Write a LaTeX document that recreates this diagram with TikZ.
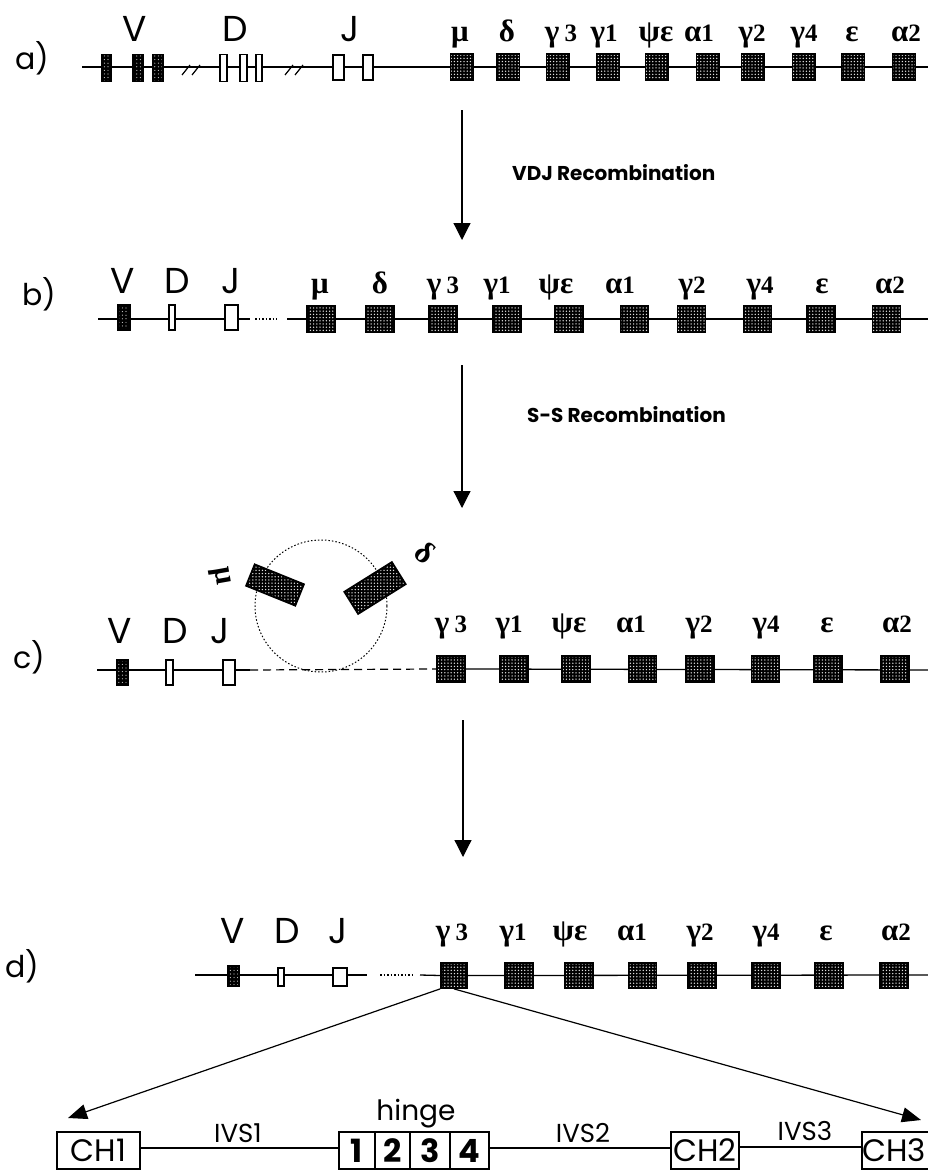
\documentclass[tikz,border=0pt]{standalone}
\usepackage{fontspec}
\setmainfont{Poppins}
\newfontfamily\gk{Liberation Serif}
\newcommand\dg[1]{{\fontsize{25}{25}\selectfont #1}}
\usetikzlibrary{arrows.meta,patterns.meta}
\begin{document}
\begin{tikzpicture}[x=1pt,y=-1pt,
  backbone/.style={line width=1.3pt},
  cbox/.style={draw=black, line width=1.8pt, inner sep=0pt, preaction={fill=black},
    pattern={Dots[distance=3.2pt, radius=0.75pt]}, pattern color=white!75!gray},
  vbox/.style={draw=black, line width=1.5pt, inner sep=0pt, preaction={fill=black},
    pattern={Dots[distance=3.6pt, radius=0.6pt]}, pattern color=white!60!gray},
  obox/.style={draw=black, line width=1.3pt, fill=white, inner sep=0pt},
  glab/.style={font=\gk\bfseries\fontsize{31}{31}\selectfont, inner sep=0pt, anchor=base},
  slab/.style={font=\fontsize{36}{36}\selectfont, inner sep=0pt, anchor=base},
  rowlab/.style={font=\fontsize{30}{30}\selectfont, inner sep=0pt, anchor=base west},
  steplab/.style={font=\bfseries\fontsize{20}{20}\selectfont, inner sep=0pt, anchor=base west},
  flow/.style={line width=1.2pt, -{Triangle[length=17pt,width=17pt]}},
  bigarrow/.style={line width=1.2pt, -{Triangle[length=19pt,width=15pt]}},
  gbox/.style={draw=black, line width=1.6pt, fill=white, inner sep=0pt, minimum height=37pt,
    font=\fontsize{31}{31}\selectfont},
  hbox/.style={draw=black, line width=1.6pt, fill=white, inner sep=0pt, minimum height=37pt,
    font=\bfseries\fontsize{32}{32}\selectfont},
  ivs/.style={font=\fontsize{26}{26}\selectfont, inner sep=0pt, anchor=base}
]
\useasboundingbox (0,0) rectangle (928,1172);
\fill[white] (0,0) rectangle (928,1172);

% ---------------- row a ----------------
\node[rowlab] (la) at (15,70) {a)};
\coordinate (a-s) at (82,67);
\coordinate (a-e) at (928,67);
\draw[backbone] (a-s) -- (a-e);
\draw[line width=1.2pt] (182,75) -- (190,65) (192,75) -- (200,65);
\draw[line width=1.2pt] (285,75) -- (293,65) (295,75) -- (303,65);
\node[vbox, minimum width=9pt, minimum height=27pt] (a-v1) at (106.5,68) {};
\node[vbox, minimum width=10pt, minimum height=27pt] (a-v2) at (138,68) {};
\node[vbox, minimum width=10pt, minimum height=27pt] (a-v3) at (158,68) {};
\node[obox, minimum width=7pt, minimum height=27pt] (a-d1) at (223.5,68) {};
\node[obox, minimum width=7pt, minimum height=27pt] (a-d2) at (243.5,68) {};
\node[obox, minimum width=6pt, minimum height=27pt] (a-d3) at (259,68) {};
\node[obox, minimum width=11pt, minimum height=25pt] (a-j1) at (338.5,67.5) {};
\node[obox, minimum width=10pt, minimum height=25pt] (a-j2) at (368,67.5) {};
\foreach \x/\n in {462/mu,508/de,558/g3,608/g1,657/pe,708/a1,753/g2,804/g4,853/ep,904/a2}
  \node[cbox, minimum width=23pt, minimum height=26pt] (a-\n) at (\x,67) {};
\node[slab] (a-V) at (135,42) {V};
\node[slab] (a-D) at (235,42) {D};
\node[slab] (a-J) at (350,42) {J};
\node[glab] (a-lmu) at (460,42) {μ};
\node[glab] (a-lde) at (507,42) {δ};
\node[glab] (a-lg3) at (561,42) {γ\,\dg{3}};
\node[glab] (a-lg1) at (604,42) {γ\dg{1}};
\node[glab] (a-lpe) at (656,42) {ψε};
\node[glab] (a-la1) at (699,42) {α\dg{1}};
\node[glab] (a-lg2) at (752,42) {γ\dg{2}};
\node[glab] (a-lg4) at (804,42) {γ\dg{4}};
\node[glab] (a-lep) at (852,42) {ε};
\node[glab] (a-la2) at (906,42) {α\dg{2}};

% arrow 1
\coordinate (ar1s) at (462,110);
\coordinate (ar1e) at (462,240);
\draw[flow] (ar1s) -- (ar1e);
\node[steplab] (t1) at (512,180) {VDJ Recombination};

% ---------------- row b ----------------
\node[rowlab] (lb) at (22,305) {b)};
\coordinate (b-s) at (98,319);
\coordinate (b-m) at (250,319);
\coordinate (b-d1) at (255,319);
\coordinate (b-d2) at (277,319);
\coordinate (b-r) at (287,319);
\coordinate (b-e) at (928,319);
\draw[backbone] (b-s) -- (b-m);
\draw[backbone, dash pattern=on 1.5pt off 2pt] (b-d1) -- (b-d2);
\draw[backbone] (b-r) -- (b-e);
\node[vbox, minimum width=12pt, minimum height=25pt] (b-v) at (124,317.5) {};
\node[obox, minimum width=6pt, minimum height=25pt] (b-d) at (172,317.5) {};
\node[obox, minimum width=13pt, minimum height=25pt] (b-j) at (231.5,317.5) {};
\foreach \x/\n in {321/mu,380/de,443/g3,507/g1,569/pe,634.5/a1,691.5/g2,757.5/g4,821/ep,886.5/a2}
  \node[cbox, minimum width=28pt, minimum height=27pt] (b-\n) at (\x,319) {};
\node[slab] (b-V) at (123,293) {V};
\node[slab] (b-D) at (177,293) {D};
\node[slab] (b-J) at (231,293) {J};
\node[glab] (b-lmu) at (320,293) {μ};
\node[glab] (b-lde) at (380,293) {δ};
\node[glab] (b-lg3) at (443,293) {γ\,\dg{3}};
\node[glab] (b-lg1) at (497,293) {γ\dg{1}};
\node[glab] (b-lpe) at (556,293) {ψε};
\node[glab] (b-la1) at (620,293) {α\dg{1}};
\node[glab] (b-lg2) at (692,293) {γ\dg{2}};
\node[glab] (b-lg4) at (760,293) {γ\dg{4}};
\node[glab] (b-lep) at (822,293) {ε};
\node[glab] (b-la2) at (890,293) {α\dg{2}};

% arrow 2
\coordinate (ar2s) at (462,365);
\coordinate (ar2e) at (462,508);
\draw[flow] (ar2s) -- (ar2e);
\node[steplab] (t2) at (527,422) {S-S Recombination};

% ---------------- row c ----------------
\node[rowlab] (lc) at (13,668) {c)};
\coordinate (c-s) at (97,670);
\coordinate (c-m) at (250,670);
\coordinate (c-e) at (928,670);
\node[cbox, minimum width=28pt, minimum height=26pt] (c-g3) at (451,669) {};
\draw[backbone] (c-s) -- (c-m);
\draw[line width=1.2pt, dash pattern=on 8pt off 5pt] (c-m) -- (c-g3.west);
\draw[backbone] (c-g3.east) -- (c-e);
\draw[line width=1pt, dash pattern=on 1.5pt off 2pt] (321,606) circle[radius=66];
\node[vbox, minimum width=11pt, minimum height=25pt] (c-v) at (122.5,672.5) {};
\node[obox, minimum width=7pt, minimum height=25pt] (c-d) at (169.5,672.5) {};
\node[obox, minimum width=12pt, minimum height=25pt] (c-j) at (229,672.5) {};
\foreach \x/\n in {514/g1,576/pe,642.5/a1,700/g2,765.5/g4,828/ep,895/a2}
  \node[cbox, minimum width=28pt, minimum height=26pt] (c-\n) at (\x,669) {};
\node[cbox, minimum width=53pt, minimum height=23pt, rotate=-22] (c-mu) at (275,585) {};
\node[cbox, minimum width=56pt, minimum height=26pt, rotate=32] (c-de) at (375,588) {};
\node[glab, anchor=center, rotate=-80] (c-lmu) at (220,576) {μ};
\node[glab, anchor=center, rotate=-40] (c-lde) at (425,553) {δ};
\node[slab] (c-V) at (120,643) {V};
\node[slab] (c-D) at (175,643) {D};
\node[slab] (c-J) at (220,643) {J};
\node[glab] (c-lg3) at (451,632) {γ\,\dg{3}};
\node[glab] (c-lg1) at (509,632) {γ\dg{1}};
\node[glab] (c-lpe) at (569,632) {ψε};
\node[glab] (c-la1) at (631,632) {α\dg{1}};
\node[glab] (c-lg2) at (699,632) {γ\dg{2}};
\node[glab] (c-lg4) at (766,632) {γ\dg{4}};
\node[glab] (c-lep) at (827,632) {ε};
\node[glab] (c-la2) at (897,632) {α\dg{2}};

% arrow 3
\coordinate (ar3s) at (463,720);
\coordinate (ar3e) at (463,857);
\draw[flow] (ar3s) -- (ar3e);

% ---------------- row d ----------------
\node[rowlab] (ld) at (5,977) {d)};
\coordinate (d-s) at (195,975);
\coordinate (d-m) at (367,975);
\coordinate (d-d1) at (380,975);
\coordinate (d-d2) at (415,975);
\coordinate (d-r) at (420,975);
\coordinate (d-e) at (928,975);
\node[cbox, minimum width=26pt, minimum height=25pt] (d-g3) at (454,975.5) {};
\draw[backbone] (d-s) -- (d-m);
\draw[backbone, dash pattern=on 1.5pt off 2pt] (d-d1) -- (d-d2);
\draw[backbone] (d-r) -- (d-g3.west);
\draw[backbone] (d-g3.east) -- (d-e);
\node[vbox, minimum width=11pt, minimum height=20pt] (d-v) at (233.5,976) {};
\node[obox, minimum width=6pt, minimum height=18pt] (d-d) at (281,977) {};
\node[obox, minimum width=14pt, minimum height=18pt] (d-j) at (340,977) {};
\foreach \x/\n in {519/g1,579/pe,642.5/a1,702/g2,766/g4,829/ep,894/a2}
  \node[cbox, minimum width=28pt, minimum height=25pt] (d-\n) at (\x,975.5) {};
\node[slab] (d-V) at (233,943) {V};
\node[slab] (d-D) at (287,943) {D};
\node[slab] (d-J) at (338,943) {J};
\node[glab] (d-lg3) at (452,940) {γ\,\dg{3}};
\node[glab] (d-lg1) at (513,940) {γ\dg{1}};
\node[glab] (d-lpe) at (570,940) {ψε};
\node[glab] (d-la1) at (632,940) {α\dg{1}};
\node[glab] (d-lg2) at (700,940) {γ\dg{2}};
\node[glab] (d-lg4) at (766,940) {γ\dg{4}};
\node[glab] (d-lep) at (826,940) {ε};
\node[glab] (d-la2) at (896,940) {α\dg{2}};

% ---------------- gene structure ----------------
\node[gbox, minimum width=83pt] (ch1) at (98.5,1150.5) {CH1};
\node[hbox, minimum width=36pt] (h1) at (357,1150.5) {1};
\node[hbox, minimum width=35pt] (h2) at (392.5,1150.5) {2};
\node[hbox, minimum width=40pt] (h3) at (430,1150.5) {3};
\node[hbox, minimum width=39pt] (h4) at (469.5,1150.5) {4};
\node[gbox, minimum width=68pt] (ch2) at (705,1150.5) {CH2};
\node[gbox, minimum width=72pt] (ch3) at (900,1150.5) {CH3\hspace*{12pt}};
\draw[backbone] (ch1.east |- 0,1148) -- (h1.west |- 0,1148);
\draw[backbone] (h4.east |- 0,1148) -- (ch2.west |- 0,1148);
\draw[backbone] (ch2.east |- 0,1147) -- (ch3.west |- 0,1147);
\node[ivs] (ivs1) at (238,1142) {IVS1};
\node[ivs] (ivs2) at (583,1142) {IVS2};
\node[ivs] (ivs3) at (805,1140) {IVS3};
\node[ivs, font=\fontsize{28}{28}\selectfont] (hinge) at (416,1120) {hinge};

\coordinate (tipL) at (68,1118);
\coordinate (tipR) at (921,1120);
\draw[bigarrow] (d-g3.south west) -- (tipL);
\draw[bigarrow] (d-g3.south) -- (tipR);
\end{tikzpicture}
\end{document}
